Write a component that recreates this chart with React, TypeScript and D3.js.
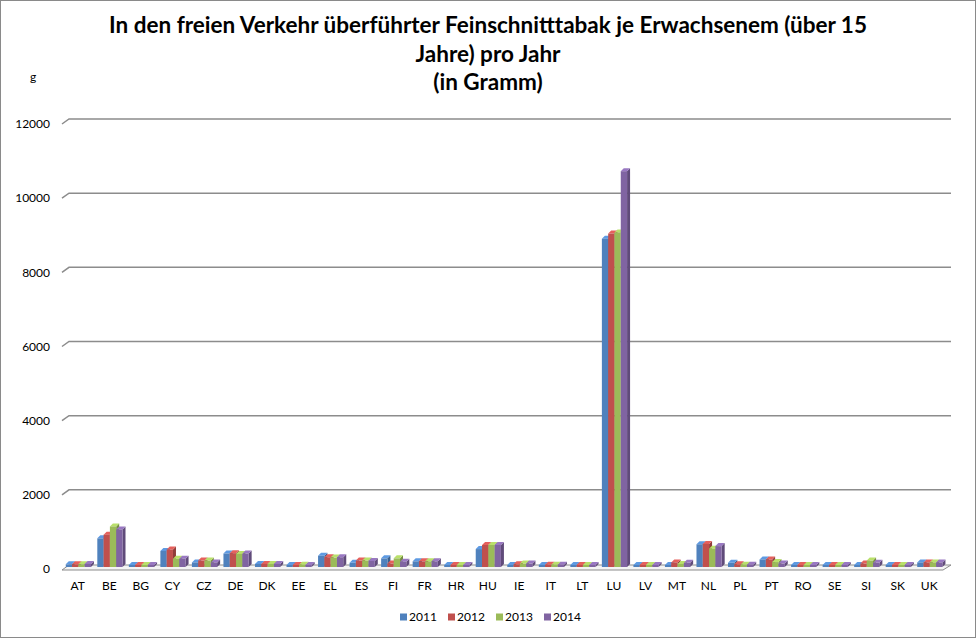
import React from "react";
import * as d3 from "d3";

const categories = ["AT","BE","BG","CY","CZ","DE","DK","EE","EL","ES","FI","FR","HR","HU","IE","IT","LT","LU","LV","MT","NL","PL","PT","RO","SE","SI","SK","UK"];
const years = ["2011","2012","2013","2014"];
const v2011 = [100,800,40,460,150,390,110,80,330,140,260,180,60,510,80,80,50,8880,50,80,640,140,230,15,40,80,30,150];
const v2012 = [100,900,40,500,200,400,110,70,290,200,120,180,70,620,100,90,50,9020,50,150,650,100,230,15,40,120,30,150];
const v2013 = [100,1120,40,250,200,380,110,90,280,200,260,180,70,620,120,90,50,9050,50,110,520,90,160,15,40,200,30,150];
const v2014 = [110,1040,40,250,150,390,110,80,290,190,170,180,70,620,120,90,50,10700,50,140,590,90,120,15,40,140,30,150];
const series = [v2011, v2012, v2013, v2014];
const yTicks = [0,2000,4000,6000,8000,10000,12000];
const colors = ["#4F81BD","#C0504D","#9BBB59","#8064A2"];
const titleLines = ["In den freien Verkehr überführter Feinschnitttabak je Erwachsenem (über 15","Jahre) pro Jahr","(in Gramm)"];

const W = 976, H = 638;
const font = "Lato, 'Open Sans', sans-serif";

export default function App() {
  const x = d3.scaleBand<string>().domain(categories).range([62, 945]);
  const yFront = d3.scaleLinear().domain([0, 12000]).range([569, 124]);
  const wallDx = 7, wallDy = -5;
  const barW = 6.3, d = 3;
  const base = 567;

  const bars: React.ReactNode[] = [];
  categories.forEach((c, i) => {
    const cx = (x(c) as number) + x.bandwidth() / 2;
    series.forEach((s, k) => {
      const col = d3.color(colors[k])!;
      const x0 = cx - 12 + k * barW;
      const x1 = x0 + barW;
      const yt = Math.min(yFront(s[i]) - 1, base - 2);
      const yb = base;
      const side = col.darker(0.8).formatHex();
      const top = col.brighter(0.5).formatHex();
      bars.push(
        <g key={`${c}-${k}`}>
          <polygon points={`${x1},${yt} ${x1 + d},${yt - d} ${x1 + d},${yb - d} ${x1},${yb}`} fill={side} />
          <polygon points={`${x0},${yt} ${x0 + d},${yt - d} ${x1 + d},${yt - d} ${x1},${yt}`} fill={top} />
          <rect x={x0} y={yt} width={barW} height={Math.max(0, yb - yt)} fill={colors[k]} />
        </g>
      );
    });
  });

  return (
    <svg width={W} height={H} style={{ position: "absolute", left: 0, top: 0, background: "#fff" }} fontFamily={font}>
      <rect x={0.5} y={0.5} width={W - 1} height={H - 1} fill="#fff" stroke="#8a8a8a" strokeWidth={1} />
      {titleLines.map((t, i) => (
        <text key={i} x={488} y={33 + i * 28.5} textAnchor="middle" fontWeight="bold" fontSize={22.5} fill="#000">{t}</text>
      ))}
      <text x={33} y={81} textAnchor="middle" fontSize={12}>g</text>
      {yTicks.map((t) => {
        const yf = yFront(t);
        return (
          <g key={t}>
            {t > 0 && (
              <polyline points={`62,${yf} ${62 + wallDx},${yf + wallDy} 951,${yf + wallDy}`} fill="none" stroke="#8c8c8c" strokeWidth={1.5} />
            )}
            <text x={50} y={yf} dy="0.35em" textAnchor="end" fontSize={12}>{t}</text>
          </g>
        );
      })}
      <polygon points={`62,570 943,570 951,565 ${62 + wallDx},565`} fill="#f4f4f4" stroke="#8c8c8c" strokeWidth={1} />
      {bars}
      {categories.map((c) => (
        <text key={c} x={(x(c) as number) + x.bandwidth() / 2} y={586} dy="0.35em" textAnchor="middle" fontSize={12}>{c}</text>
      ))}
      {years.map((yr, k) => (
        <g key={yr} transform={`translate(${400 + k * 48},617)`}>
          <rect x={0} y={-3.5} width={7} height={7} fill={colors[k]} />
          <text x={9} y={0} dy="0.35em" fontSize={12}>{yr}</text>
        </g>
      ))}
    </svg>
  );
}
